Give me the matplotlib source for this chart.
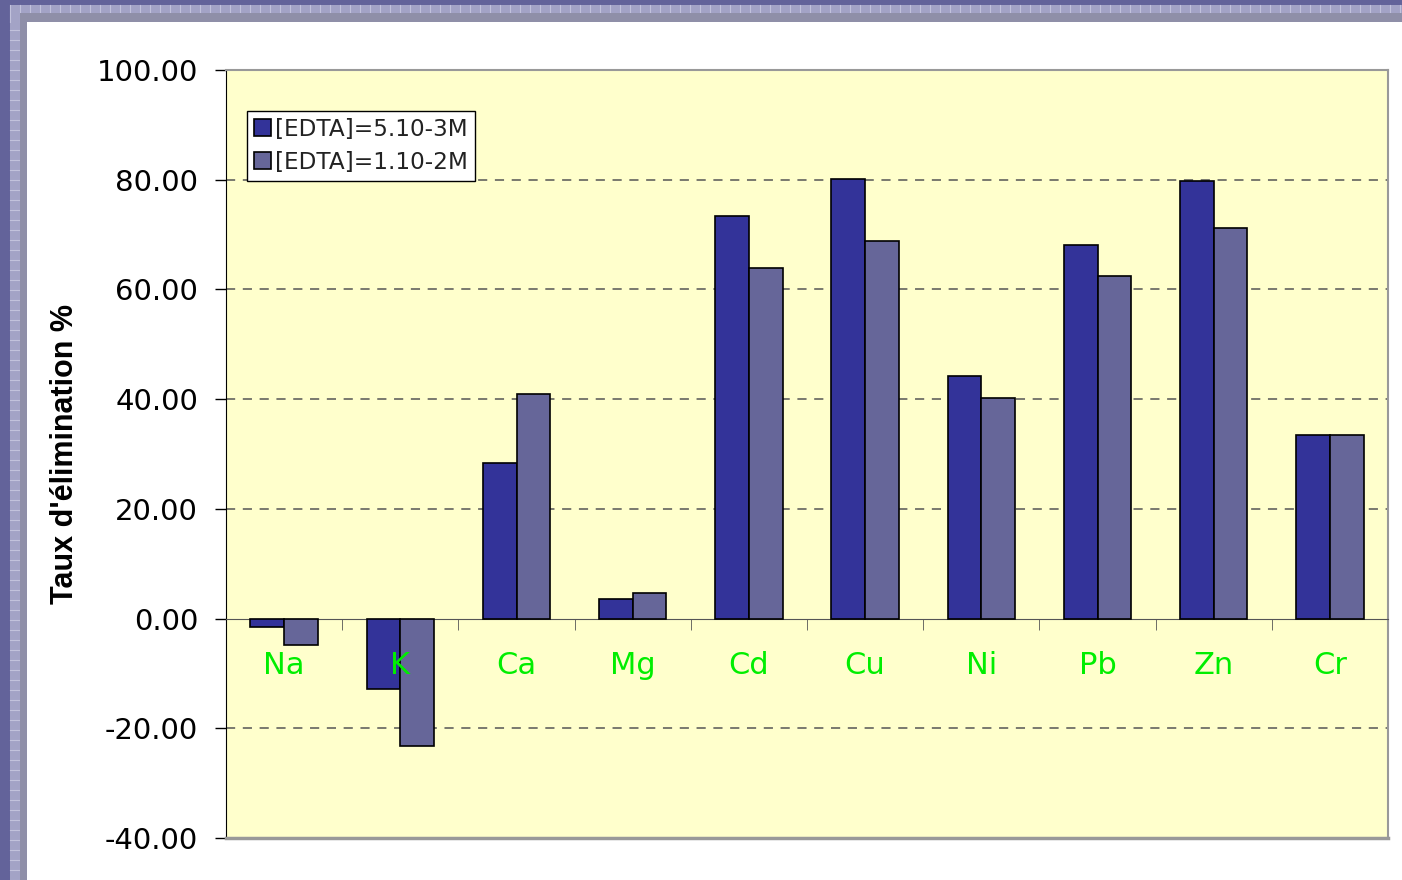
import numpy as np
import matplotlib
matplotlib.use("Agg")
import matplotlib.pyplot as plt
from matplotlib.patches import Rectangle

plt.rcParams['font.family'] = ['DejaVu Sans']

# Data
elements = ['Na', 'K', 'Ca', 'Mg', 'Cd', 'Cu', 'Ni', 'Pb', 'Zn', 'Cr']
edta_5e3 = [-1.5, -12.8, 28.3, 3.5, 73.3, 80.1, 44.2, 68.1, 79.7, 33.5]
edta_1e2 = [-4.9, -23.3, 41.0, 4.7, 63.9, 68.8, 40.2, 62.4, 71.2, 33.5]
labels = ['[EDTA]=5.10-3M', '[EDTA]=1.10-2M']
yticks = [-40, -20, 0, 20, 40, 60, 80, 100]

fig = plt.figure(figsize=(14.02, 8.8), dpi=100)
fig.patch.set_facecolor('#63639a')

# slide frame: patterned band + white page
W, H = 1402, 880
fig.patches.append(Rectangle((10 / W, 0), 1, 1 - 5 / H, transform=fig.transFigure,
                             facecolor='#a3a3c6', edgecolor='none', zorder=0))
for xx in np.arange(10, W, 10):
    fig.lines.append(plt.Line2D([xx / W, xx / W], [1 - 22 / H, 1 - 5 / H], transform=fig.transFigure,
                                color='#c2c2dc', lw=0.8, zorder=0.5))
for yy in np.arange(0, H - 22, 10):
    fig.lines.append(plt.Line2D([10 / W, 27 / W], [yy / H, yy / H], transform=fig.transFigure,
                                color='#c2c2dc', lw=0.8, zorder=0.5))
fig.patches.append(Rectangle((20 / W, 0), 1, 1 - 13 / H, transform=fig.transFigure,
                             facecolor='#8f8fa8', edgecolor='none', zorder=0.6))
fig.patches.append(Rectangle((27 / W, 0), 1, 1 - 22 / H, transform=fig.transFigure,
                             facecolor='white', edgecolor='none', zorder=0.7))

ax = fig.add_axes([226 / W, 1 - 838 / H, (1388 - 226) / W, (838 - 70) / H])
ax.set_facecolor('#ffffcc')
ax.set_zorder(2)

x = np.arange(len(elements))
w = 0.29
ax.bar(x - w / 2, edta_5e3, w, color='#333399', edgecolor='black', linewidth=1.2, label=labels[0], zorder=3)
ax.bar(x + w / 2, edta_1e2, w, color='#666699', edgecolor='black', linewidth=1.2, label=labels[1], zorder=3)

ax.set_xlim(-0.5, len(elements) - 0.5)
ax.set_ylim(-40, 100)
ax.set_yticks(yticks)
ax.set_yticklabels(['%.2f' % v for v in yticks], fontsize=21)
ax.tick_params(axis='y', direction='out', length=8, width=1, color='black', pad=12)

for v in yticks:
    if v not in (0, 100, -40):
        ax.axhline(v, color='#555555', lw=1.1, ls=(0, (6, 5)), zorder=1)

# zero axis with category ticks
ax.spines['bottom'].set_position(('data', 0))
ax.spines['bottom'].set_color('#555555')
ax.spines['left'].set_color('black')
ax.spines['top'].set_color('#999999')
ax.spines['right'].set_color('#999999')
ax.spines['top'].set_linewidth(1.5)
ax.spines['right'].set_linewidth(1.5)
ax.axhline(-40, color='#999999', lw=2.5, clip_on=False, zorder=5)
ax.xaxis.set_zorder(4)

ax.set_xticks(x)
ax.set_xticklabels(elements, color='#00ee00', fontsize=22)
ax.set_xticks(x[:-1] + 0.5, minor=True)
ax.tick_params(axis='x', which='major', length=0, pad=23)
ax.tick_params(axis='x', which='minor', direction='out', length=8, color='#555555')

ax.set_ylabel("Taux d'élimination %", fontsize=22, fontweight='bold', labelpad=12,
              family=['Liberation Sans', 'DejaVu Sans'])

leg = ax.legend(loc='upper left', bbox_to_anchor=(0.018, 0.9466), fontsize=16.7, frameon=True,
                fancybox=False, edgecolor='black', framealpha=1, handlelength=0.75, handleheight=0.75,
                handletextpad=0.15, borderpad=0.3, labelspacing=0.42, borderaxespad=0)
leg.get_frame().set_linewidth(1)
for t in leg.get_texts():
    t.set_color('#222222')

fig.savefig('out.png', dpi=100, facecolor=fig.get_facecolor())
